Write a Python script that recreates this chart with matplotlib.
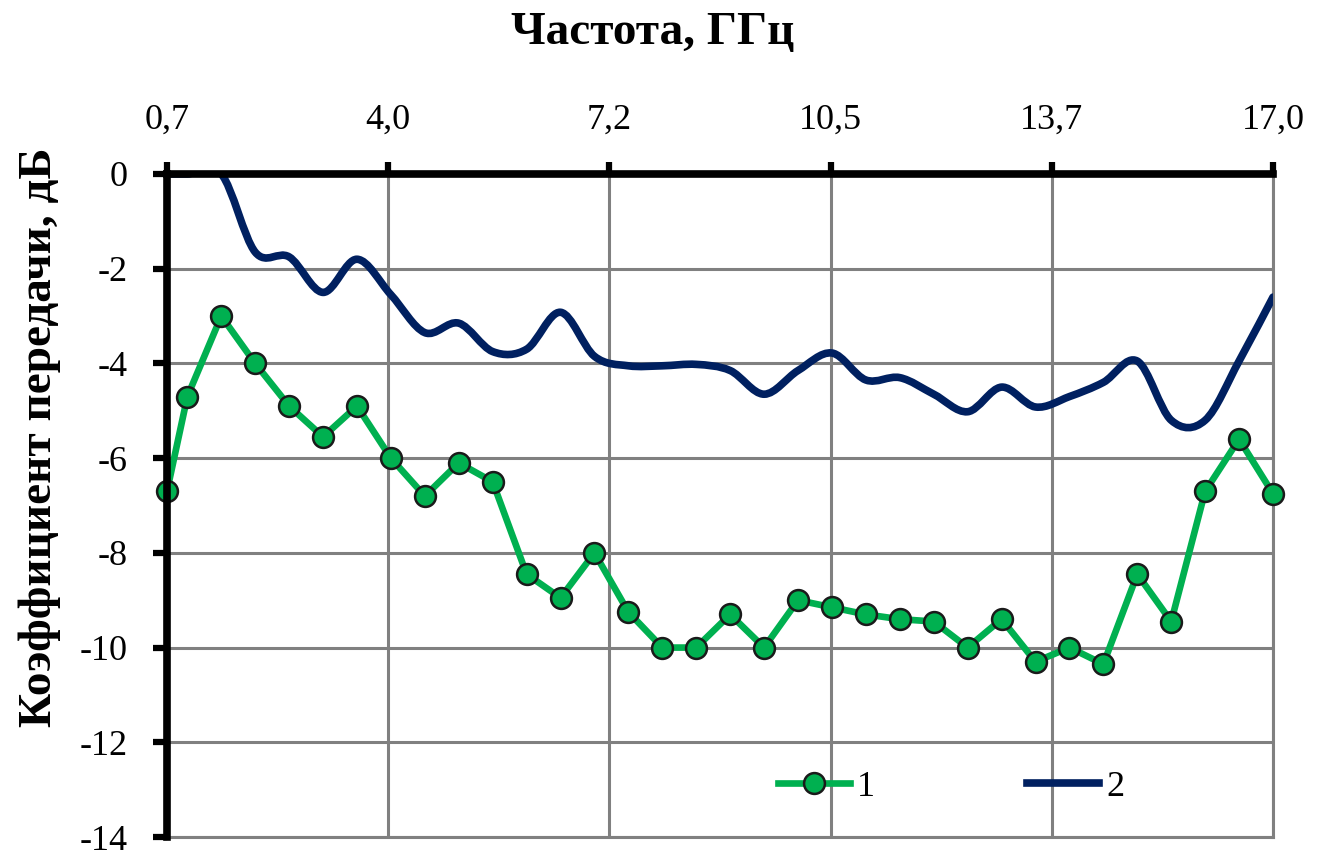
import numpy as np
import matplotlib.pyplot as plt
from matplotlib.path import Path
from matplotlib.patches import PathPatch
from matplotlib.lines import Line2D

plt.rcParams['font.family'] = ['Liberation Serif', 'DejaVu Serif']

# частота, ГГц
freq = [0.7, 1.0, 1.5, 2.0, 2.5, 3.0, 3.5, 4.0, 4.5, 5.0, 5.5, 6.0, 6.5, 7.0,
        7.5, 8.0, 8.5, 9.0, 9.5, 10.0, 10.5, 11.0, 11.5, 12.0, 12.5, 13.0,
        13.5, 14.0, 14.5, 15.0, 15.5, 16.0, 16.5, 17.0]

# кривая 1
s1 = [-6.7, -4.7, -3.0, -4.0, -4.9, -5.55, -4.9, -6.0, -6.8, -6.1, -6.5,
      -8.45, -8.95, -8.0, -9.25, -10.0, -10.0, -9.3, -10.0, -9.0, -9.15,
      -9.3, -9.4, -9.45, -10.0, -9.4, -10.3, -10.0, -10.35, -8.45, -9.45,
      -6.7, -5.6, -6.75]

# кривая 2
s2 = [0.0, 0.0, 0.0, -1.65, -1.75, -2.5, -1.8, -2.55, -3.35, -3.15, -3.75,
      -3.7, -2.92, -3.85, -4.05, -4.05, -4.02, -4.15, -4.65, -4.15, -3.78,
      -4.35, -4.3, -4.65, -5.02, -4.5, -4.92, -4.7, -4.4, -3.95, -5.2,
      -5.2, -3.95, -2.6]

green = '#00B050'
navy = '#002060'
grid_c = '#808080'


def smooth_path(x, y):
    # сглаженная линия как в Excel (кривые Безье)
    p = np.column_stack([x, y])
    n = len(p)
    verts = [p[0]]
    codes = [Path.MOVETO]
    for i in range(n - 1):
        p0 = p[i - 1] if i > 0 else p[i]
        p1 = p[i]
        p2 = p[i + 1]
        p3 = p[i + 2] if i + 2 < n else p[i + 1]
        verts += [p1 + (p2 - p0) / 6, p2 - (p3 - p1) / 6, p2]
        codes += [Path.CURVE4] * 3
    return Path(verts, codes)


fig = plt.figure(figsize=(13.17, 8.52), dpi=100)
ax = fig.add_axes([167 / 1317, 1 - 837 / 852, 1106 / 1317, 663 / 852])

ax.add_patch(PathPatch(smooth_path(freq, s2), fill=False, edgecolor=navy,
                       lw=5.5, capstyle='round', joinstyle='round', zorder=3))
ax.plot(freq, s1, color=green, lw=4.8, marker='o', ms=15,
        markerfacecolor=green, markeredgecolor='#1a1a1a', markeredgewidth=1.8,
        zorder=4, clip_on=False)

ax.set_xlim(0.7, 17.0)
ax.set_ylim(-14, 0)
xt = np.linspace(0.7, 17.0, 6)
ax.set_xticks(xt)
ax.set_xticklabels([f'{v:.1f}'.replace('.', ',') for v in xt])
ax.set_yticks(range(-14, 1, 2))
ax.set_yticklabels([str(v) for v in range(-14, 1, 2)])
ax.xaxis.tick_top()
ax.xaxis.set_label_position('top')
ax.tick_params(axis='x', direction='out', length=9, width=4.5, pad=18,
               labelsize=26, color='black')
ax.tick_params(axis='y', direction='out', length=10, width=4.5, pad=18,
               labelsize=26, color='black')
ax.grid(True, color=grid_c, lw=2.2)
ax.set_axisbelow(True)

for side in ['left', 'top']:
    ax.spines[side].set_linewidth(5.5)
    ax.spines[side].set_color('black')
    ax.spines[side].set_zorder(5)
for side in ['right', 'bottom']:
    ax.spines[side].set_linewidth(2.2)
    ax.spines[side].set_color(grid_c)

fig.text(653 / 1317, 1 - 33 / 852, 'Частота, ГГц', ha='center', va='center',
         fontsize=34, fontweight='bold')
fig.text(40 / 1317, 1 - 437 / 852, 'Коэффициент передачи, дБ', rotation=90,
         ha='center', va='center', fontsize=34, fontweight='bold')

handles = [Line2D([], [], color=green, lw=4.8, marker='o', ms=15,
                  markerfacecolor=green, markeredgecolor='#1a1a1a',
                  markeredgewidth=1.8),
           Line2D([], [], color=navy, lw=5.5)]
fig.legend(handles, ['1', '2'], ncol=2, frameon=False, fontsize=26,
           loc='center', bbox_to_anchor=(951 / 1317, 1 - 787 / 852),
           handlelength=2.0, columnspacing=4.2, handletextpad=0.2)

fig.savefig('out.png', dpi=100)
